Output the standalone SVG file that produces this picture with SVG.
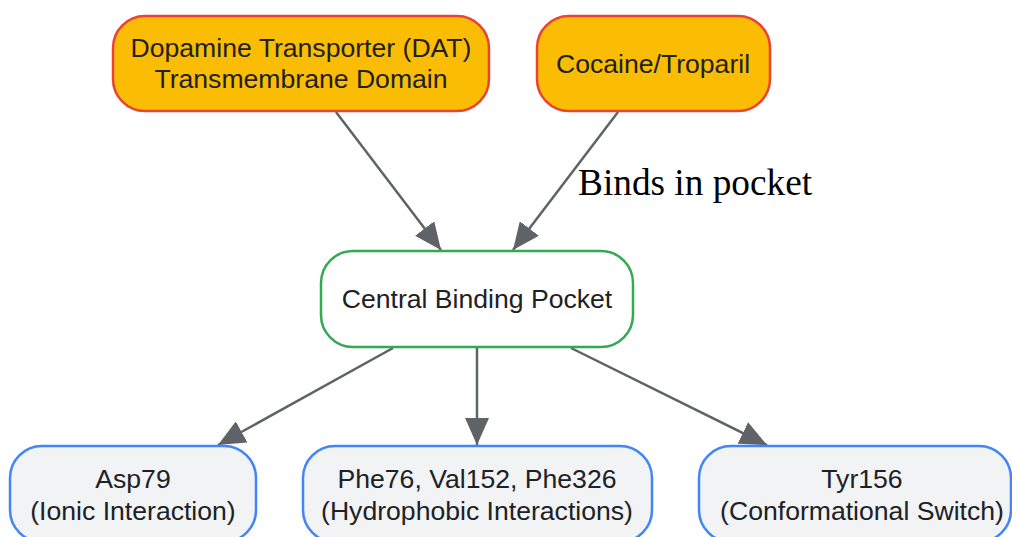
<svg xmlns="http://www.w3.org/2000/svg" width="1012" height="537" viewBox="0 0 1012 537">
<style>
.src rect{fill:#fbbc04;stroke:#ea4335;stroke-width:2.5}
.mid rect{fill:#ffffff;stroke:#34a853;stroke-width:2.5}
.res rect{fill:#f1f3f4;stroke:#4285f4;stroke-width:2.5}
text{font-family:"Liberation Sans",Arial,sans-serif;font-size:26.6px;fill:#202124;text-anchor:middle}
.edges line{stroke:#5f6368;stroke-width:2.5;fill:none}
.lbl{font-family:"Liberation Serif","Times New Roman",serif;font-size:37.3px;fill:#000;text-anchor:start}
</style>
<defs>
<marker id="arr" markerUnits="userSpaceOnUse" markerWidth="28" markerHeight="24" refX="27" refY="12" orient="auto">
<path d="M0,0 L27,12 L0,24 Z" fill="#5f6368"/>
</marker>
</defs>
<rect width="1012" height="537" fill="#ffffff"/>
<g class="edges">
<line x1="336" y1="112" x2="441" y2="250" marker-end="url(#arr)"/>
<line x1="618" y1="112" x2="513" y2="250" marker-end="url(#arr)"/>
<line x1="393" y1="348" x2="218" y2="445" marker-end="url(#arr)"/>
<line x1="477" y1="348" x2="477" y2="445" marker-end="url(#arr)"/>
<line x1="571" y1="348" x2="767" y2="445" marker-end="url(#arr)"/>
<text class="lbl" x="578" y="195">Binds in pocket</text>
</g>
<g id="dat" class="src">
<rect x="113" y="16" width="376" height="95" rx="32"/>
<text x="301" y="57">Dopamine Transporter (DAT)</text>
<text x="301" y="88">Transmembrane Domain</text>
</g>
<g id="cocaine" class="src">
<rect x="537" y="16" width="233" height="95" rx="32"/>
<text x="653" y="73">Cocaine/Troparil</text>
</g>
<g id="pocket" class="mid">
<rect x="321" y="251" width="312" height="96" rx="32"/>
<text x="477" y="308">Central Binding Pocket</text>
</g>
<g id="asp79" class="res">
<rect x="10" y="446" width="246" height="96" rx="32"/>
<text x="133" y="488">Asp79</text>
<text x="133" y="520">(Ionic Interaction)</text>
</g>
<g id="hydrophobic" class="res">
<rect x="303" y="446" width="349" height="96" rx="32"/>
<text x="477" y="488">Phe76, Val152, Phe326</text>
<text x="477" y="520">(Hydrophobic Interactions)</text>
</g>
<g id="tyr156" class="res">
<rect x="699" y="446" width="312" height="96" rx="32"/>
<text x="862" y="488">Tyr156</text>
<text x="862" y="520">(Conformational Switch)</text>
</g>
</svg>
